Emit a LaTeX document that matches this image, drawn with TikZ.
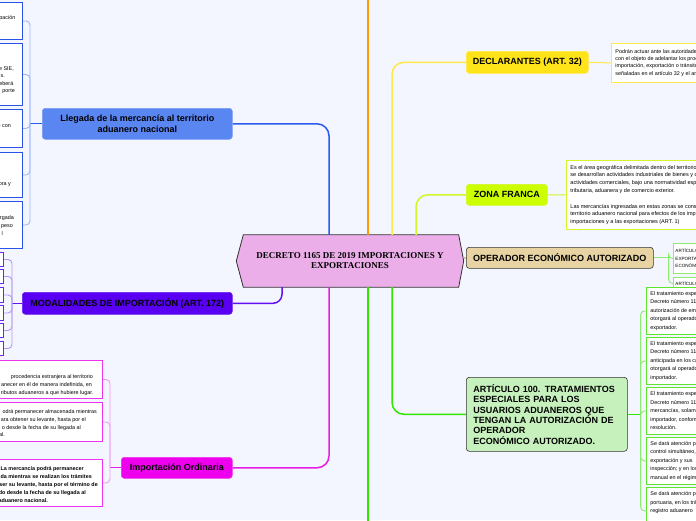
\documentclass[tikz,border=0pt]{standalone}
\usepackage{fontspec}
\setmainfont{Liberation Sans}
\newfontfamily\hexfont{Liberation Serif}
\usetikzlibrary{backgrounds,calc}
\definecolor{bgc}{HTML}{F3F6FE}
\definecolor{hexF}{HTML}{EBAEE8}
\definecolor{blueN}{HTML}{5A86F2}
\definecolor{blueNb}{HTML}{7A9CF4}
\definecolor{blueL}{HTML}{2B5BEF}
\definecolor{blueB}{HTML}{2A52E6}
\definecolor{blueBr}{HTML}{9DB5F7}
\definecolor{purN}{HTML}{5A00F2}
\definecolor{purL}{HTML}{6410F0}
\definecolor{purB}{HTML}{6B25F0}
\definecolor{purBr}{HTML}{B596F7}
\definecolor{magN}{HTML}{EE00EE}
\definecolor{magL}{HTML}{E81CE8}
\definecolor{magB}{HTML}{EE33EE}
\definecolor{magBr}{HTML}{F39AF3}
\definecolor{orL}{HTML}{FF9900}
\definecolor{yelN}{HTML}{FFE41A}
\definecolor{yelL}{HTML}{FFE84A}
\definecolor{limeN}{HTML}{CCFF00}
\definecolor{limeL}{HTML}{D4F52A}
\definecolor{tanN}{HTML}{E8D4A2}
\definecolor{tanL}{HTML}{D8C48C}
\definecolor{grnL}{HTML}{33E600}
\definecolor{grnB}{HTML}{5CE62E}
\definecolor{grnBr}{HTML}{8DEB6E}
\definecolor{artN}{HTML}{C6F1BC}
\definecolor{darkB}{HTML}{333333}
\tikzset{
  mainnode/.style={rounded corners=3pt, inner sep=0pt, anchor=north west, align=center,
    font=\bfseries\fontsize{9}{10.5}\selectfont, line width=0.6pt},
  tbox/.style={anchor=north west, fill=white, line width=0.9pt, inner xsep=4pt, inner ysep=0pt,
    align=left, font=\fontsize{5.4}{8.5}\selectfont},
  lbox/.style={anchor=north east, fill=white, line width=0.9pt, inner sep=0pt},
  fragr/.style={anchor=base east, inner sep=0pt, font=\fontsize{5.4}{6}\selectfont},
  conn/.style={line width=1.5pt, rounded corners=12pt},
  brk/.style={line width=0.9pt, rounded corners=4pt},
}
\newcommand\fragR[4]{\node[fragr] (#1) at (#2,#3) {#4};}
\newcommand\fragB[4]{\node[fragr, font=\bfseries\fontsize{5.4}{6}\selectfont] (#1) at (#2,#3) {#4};}
\begin{document}
\begin{tikzpicture}[x=1pt,y=-1pt]
\useasboundingbox (0,0) rectangle (696,520);
\begin{scope}[on background layer]
  \fill[bgc] (0,0) rectangle (696,520);
\end{scope}

% ---------- centre ----------
\node[inner sep=0pt, minimum width=227pt, minimum height=52pt, align=center,
  font=\hexfont\bfseries\fontsize{9}{10}\selectfont] (hex) at (350,261)
  {DECRETO 1165 DE 2019 IMPORTACIONES Y\\EXPORTACIONES};

% ---------- Llegada ----------
\node[mainnode, fill=blueN, draw=blueNb, minimum width=190pt, minimum height=31pt] (lleg) at (42,108)
  {Llegada de la mercancía al territorio\\aduanero nacional};
\node[lbox, draw=blueB, minimum width=40pt, minimum height=37pt] (l1) at (22.5,2) {};
\node[lbox, draw=blueB, minimum width=40pt, minimum height=62pt] (l2) at (22.5,43) {};
\node[lbox, draw=blueB, minimum width=40pt, minimum height=38pt] (l3) at (22.5,109) {};
\node[lbox, draw=blueB, minimum width=40pt, minimum height=45pt] (l4) at (22.5,152) {};
\node[lbox, draw=blueB, minimum width=40pt, minimum height=47pt] (l5) at (22.5,201) {};
\fragR{l1a}{15.5}{19}{pación}
\fragR{l2a}{14}{70}{e SIE,}
\fragR{l2b}{5}{77}{s.}
\fragR{l2c}{13.5}{85}{eberá}
\fragR{l2d}{15}{92}{porte}
\fragR{l3a}{11}{127}{e con}
\fragR{l4a}{11}{185}{ora y}
\fragR{l5a}{14}{219}{rgada}
\fragR{l5b}{13}{227}{peso}
\fragR{l5c}{3}{235}{l}

% ---------- Modalidades ----------
\node[mainnode, fill=purN, draw=purB, minimum width=210pt, minimum height=22pt] (mod) at (22,292)
  {MODALIDADES DE IMPORTACIÓN (ART. 172)};
\node[lbox, draw=purB, minimum width=20pt, minimum height=14pt] (m1) at (3.5,252) {};
\node[lbox, draw=purB, minimum width=20pt, minimum height=14pt] (m2) at (3.5,269) {};
\node[lbox, draw=purB, minimum width=20pt, minimum height=15pt] (m3) at (3.5,287) {};
\node[lbox, draw=purB, minimum width=20pt, minimum height=15pt] (m4) at (3.5,305) {};
\node[lbox, draw=purB, minimum width=20pt, minimum height=14pt] (m5) at (3.5,323) {};
\node[lbox, draw=purB, minimum width=20pt, minimum height=14pt] (m6) at (3.5,341) {};

% ---------- Importacion ordinaria ----------
\node[mainnode, fill=magN, draw=magB, minimum width=111pt, minimum height=21pt] (imp) at (121,457)
  {Importación Ordinaria};
\node[lbox, draw=magB, minimum width=110pt, minimum height=38pt] (i1) at (103,360) {};
\node[lbox, draw=magB, minimum width=110pt, minimum height=39pt] (i2) at (103,402) {};
\node[lbox, draw=magB, minimum width=110pt, minimum height=47pt] (i3) at (103,459) {};
\fragR{i1a}{93}{378}{procedencia extranjera al territorio}
\fragR{i1b}{92}{386}{anecer en él de manera indefinida, en}
\fragR{i1c}{93.5}{394}{ributos aduaneros a que hubiere lugar.}
\fragR{i2a}{97}{413}{odrá permanecer almacenada mientras}
\fragR{i2b}{86}{421}{ara obtener su levante, hasta por el}
\fragR{i2c}{81}{429}{o desde la fecha de su llegada al}
\fragR{i2d}{5}{436}{al.}
\fragB{i3a}{84}{470}{La mercancía podrá permanecer}
\fragB{i3b}{92}{478}{da mientras se realizan los trámites}
\fragB{i3c}{98}{486}{ser su levante, hasta por el término de}
\fragB{i3d}{86}{494}{tado desde la fecha de su llegada al}
\fragB{i3e}{48}{502}{aduanero nacional.}

% ---------- Declarantes ----------
\node[mainnode, fill=yelN, draw=yelL, minimum width=122pt, minimum height=22pt] (decl) at (466,51)
  {DECLARANTES (ART. 32)};
\node[tbox, draw=yelL, minimum height=39pt, font=\fontsize{5.4}{7.2}\selectfont] (declt) at (611,43)
  {Podrán actuar ante las autoridades aduaneras\\con el objeto de adelantar los procedimientos\\importación, exportación o tránsito aduanero\\señaladas en el artículo 32 y el artículo};

% ---------- Zona franca ----------
\node[mainnode, fill=limeN, draw=limeL, minimum width=81pt, minimum height=21pt] (zona) at (466,184)
  {ZONA FRANCA};
\node[tbox, draw=limeL, minimum height=69pt, font=\fontsize{5.5}{7.8}\selectfont] (zonat) at (566,160)
  {Es el área geográfica delimitada dentro del territorio nacional\\se desarrollan actividades industriales de bienes y de servicios\\actividades comerciales, bajo una normatividad especial en materia\\tributaria, aduanera y de comercio exterior.\\~\\Las mercancías ingresadas en estas zonas se consideran fuera\\territorio aduanero nacional para efectos de los impuestos a las\\importaciones y a las exportaciones (ART. 1)};

% ---------- Operador ----------
\node[mainnode, fill=tanN, draw=darkB, minimum width=187pt, minimum height=21pt] (oper) at (466,247)
  {OPERADOR ECONÓMICO AUTORIZADO};
\node[tbox, draw=grnBr, minimum height=30pt, inner xsep=2pt, font=\fontsize{4.6}{7.5}\selectfont] (o1) at (673,243)
  {ARTÍCULO 98.\\EXPORTADOR\\ECONÓMICO};
\node[tbox, draw=grnBr, minimum height=12pt, inner xsep=2pt, font=\fontsize{4.6}{7.5}\selectfont] (o2) at (673,277)
  {ARTÍCULO 99.};

% ---------- Articulo 100 ----------
\node[mainnode, fill=artN, draw=darkB, text width=147pt, inner xsep=7pt, align=left, minimum height=74pt,
  font=\bfseries\fontsize{9}{10.3}\selectfont] (art) at (466,377)
  {ARTÍCULO 100. TRATAMIENTOS\\ESPECIALES PARA LOS\\USUARIOS ADUANEROS QUE\\TENGAN LA AUTORIZACIÓN DE\\OPERADOR\\ECONÓMICO AUTORIZADO.};
\node[tbox, draw=grnB, minimum height=47pt] (ra) at (646,287)
  {El tratamiento especial del\\Decreto número 1165 de 2019\\autorización de embarque\\otorgará al operador\\exportador.};
\node[tbox, draw=grnB, minimum height=47pt] (rb) at (646,337)
  {El tratamiento especial del\\Decreto número 1165 de 2019\\anticipada en los casos\\otorgará al operador\\importador.};
\node[tbox, draw=grnB, minimum height=47pt] (rc) at (646,387)
  {El tratamiento especial del\\Decreto número 1165 de 2019\\mercancías, solamente\\importador, conforme\\resolución.};
\node[tbox, draw=grnB, minimum height=47pt] (rd) at (646,437)
  {Se dará atención prioritaria\\control simultáneo, en\\exportación y sus\\inspección; y en los\\manual en el régimen};
\node[tbox, draw=grnB, minimum height=47pt] (re) at (646,487)
  {Se dará atención prioritaria\\portuaria, en los trámites\\registro aduanero\\~\\~};

% free ends / x positions
\coordinate (xb) at (329,0);
\coordinate (xp) at (282,0);
\coordinate (xo) at (368,0);
\coordinate (xy) at (392,0);
\coordinate (xl) at (416,0);
\coordinate (otop) at (368,-5);
\coordinate (gbot) at (368,525);

\begin{scope}[on background layer]
  % hexagon
  \draw[line width=0.8pt, draw=darkB, fill=hexF] (hex.west) -- ([xshift=7pt]hex.north west)
    -- ([xshift=-5pt]hex.north east) -- (hex.east) -- ([xshift=-5pt]hex.south east)
    -- ([xshift=7pt]hex.south west) -- cycle;
  % main connectors
  \draw[conn, blueL] (lleg.east) -| (hex.north -| xb);
  \draw[conn, orL] (hex.north -| xo) -- (otop);
  \draw[conn, yelL] (hex.north -| xy) |- (decl.west);
  \draw[conn, limeL] (hex.north -| xl) |- (zona.west);
  \draw[conn, tanL] (hex.east |- oper.west) -- (oper.west);
  \draw[conn, magL] (hex.south -| xb) |- (imp.east);
  \draw[conn, purL, rounded corners=9pt] (hex.south -| xp) |- (mod.east);
  \draw[conn, grnL] (hex.south -| xo) -- (gbot);
  \draw[conn, grnL] (hex.south -| xy) |- (art.west);
  % Llegada bracket
  \draw[line width=1.2pt, blueL] (lleg.west) -- ++(-12,0) coordinate (lb);
  \foreach \n in {l1,l2,l3,l4,l5} \draw[brk, blueBr] (lb) |- (\n.east);
  % Modalidades bracket
  \draw[line width=1.2pt, purL] (mod.west) -- ++(-10,0) coordinate (mb);
  \foreach \n in {m1,m2,m3,m4,m5,m6} \draw[brk, purBr] (mb) |- (\n.east);
  % Importacion bracket
  \draw[line width=1.2pt, magL] (imp.west) -- ++(-11,0) coordinate (ib);
  \foreach \n in {i1,i2,i3} \draw[brk, magBr] (ib) |- (\n.east);
  % right side
  \draw[line width=1pt, yelL] (decl.east) -- (declt.west);
  \draw[line width=1pt, limeL] (zona.east) -- (zonat.west);
  \draw[line width=1.2pt, grnBr] (oper.east) -- ++(15,0) coordinate (ob);
  \foreach \n in {o1,o2} \draw[brk, grnBr] (ob) |- (\n.west);
  \draw[line width=1.2pt, grnL] (art.east) -- ++(13,0) coordinate (ab);
  \foreach \n in {ra,rb,rc,rd,re} \draw[brk, grnBr] (ab) |- (\n.west);
\end{scope}
\end{tikzpicture}
\end{document}
